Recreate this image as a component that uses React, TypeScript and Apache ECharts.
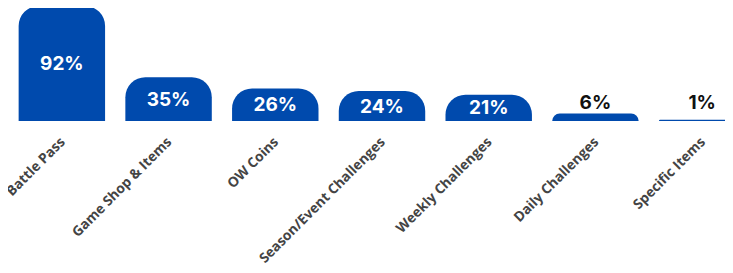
import React, { useEffect, useRef } from "react";
import * as echarts from "echarts";

const categories = [
  "Battle Pass",
  "Game Shop & Items",
  "OW Coins",
  "Season/Event Challenges",
  "Weekly Challenges",
  "Daily Challenges",
  "Specific Items",
];
const values = [92, 35, 26, 24, 21, 6, 1];
const outsideLabel = [false, false, false, false, false, true, true];
const outsideDistance = [0, 0, 0, 0, 0, 2, 8];

export default function App() {
  const ref = useRef<HTMLDivElement>(null);
  useEffect(() => {
    const chart = echarts.init(ref.current!, undefined, { renderer: "svg" });
    const data = values.map((v, i) => ({
      value: v,
      label: outsideLabel[i]
        ? { position: "top", color: "#111", distance: outsideDistance[i] }
        : { position: "inside", color: "#fff" },
    }));
    chart.setOption({
      animation: false,
      grid: { left: 8.5, width: 747, top: 6, height: 115, containLabel: false },
      xAxis: {
        type: "category",
        data: categories,
        axisLine: { show: false },
        axisTick: { show: false },
        axisLabel: {
          rotate: 45,
          interval: 0,
          margin: 18,
          color: "#444",
          fontFamily: "Open Sans",
          fontWeight: "bold",
          fontSize: 13.8,
        },
      },
      yAxis: { type: "value", min: 0, max: 92, show: false, splitLine: { show: false } },
      series: [
        {
          type: "bar",
          data,
          barCategoryGap: "19%",
          itemStyle: { color: "#004AAD", borderRadius: [20, 20, 0, 0] },
          label: {
            show: true,
            formatter: "{c}%",
            fontFamily: "Inter",
            fontWeight: "bold",
            fontSize: 19,
          },
        },
      ],
    });
    return () => chart.dispose();
  }, []);
  return (
    <div style={{ width: 733, height: 273, margin: -8, overflow: "hidden" }}>
      <div ref={ref} style={{ width: 770, height: 273 }} />
    </div>
  );
}
